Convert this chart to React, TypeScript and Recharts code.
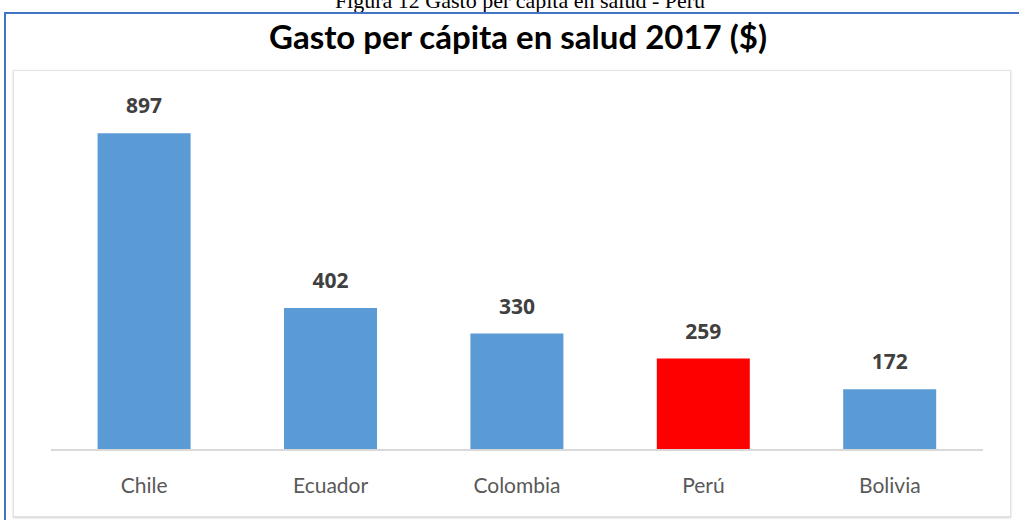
import { BarChart, Bar, XAxis, YAxis, Cell, LabelList } from 'recharts';

const paises = ['Chile', 'Ecuador', 'Colombia', 'Perú', 'Bolivia'];
const gasto = [897, 402, 330, 259, 172];
const colores = ['#5B9BD5', '#5B9BD5', '#5B9BD5', '#FF0000', '#5B9BD5'];

const data = paises.map((p, i) => ({ name: p, value: gasto[i] }));

export default function App() {
  return (
    <div style={{ position: 'fixed', left: 0, top: 0, width: 1019, height: 520, background: '#fff', overflow: 'hidden' }}>
      <div
        style={{
          position: 'absolute',
          top: -12,
          left: 0,
          width: 1040,
          textAlign: 'center',
          fontFamily: '"Liberation Serif", serif',
          fontSize: 22,
          color: '#000',
        }}
      >
        Figura 12 Gasto per cápita en salud - Perú
      </div>
      <div
        style={{
          position: 'absolute',
          left: 4,
          top: 12,
          width: 1030,
          height: 520,
          borderLeft: '2px solid #4472C4',
          borderTop: '2px solid #4472C4',
        }}
      />
      <div
        style={{
          position: 'absolute',
          left: 13,
          top: 70,
          width: 996,
          height: 445,
          border: '1px solid #e3e3e3',
          boxShadow: '0 1px 2px #d0d0d0',
        }}
      />
      <div
        style={{
          position: 'absolute',
          top: 16,
          left: 0,
          width: 1036,
          textAlign: 'center',
          fontFamily: 'Lato, sans-serif',
          fontWeight: 'bold',
          fontSize: 33,
          color: '#000',
        }}
      >
        Gasto per cápita en salud 2017 ($)
      </div>
      <div style={{ position: 'absolute', left: 0, top: 0 }}>
        <BarChart
          width={1019}
          height={520}
          data={data}
          margin={{ top: 97, right: 36, left: 51, bottom: 0 }}
          barCategoryGap="25%"
        >
          <XAxis
            dataKey="name"
            height={70}
            axisLine={{ stroke: '#d9d9d9', strokeWidth: 2 }}
            tickLine={false}
            tickMargin={22}
            tick={{ fill: '#595959', fontSize: 21, fontFamily: 'Lato, sans-serif' }}
          />
          <YAxis hide domain={[0, 1000]} />
          <Bar dataKey="value" isAnimationActive={false}>
            {data.map((d, i) => (
              <Cell key={d.name} fill={colores[i]} />
            ))}
            <LabelList
              dataKey="value"
              position="top"
              offset={20}
              fill="#404040"
              fontSize={21}
              fontWeight="bold"
              fontFamily="'Open Sans', sans-serif"
            />
          </Bar>
        </BarChart>
      </div>
    </div>
  );
}
